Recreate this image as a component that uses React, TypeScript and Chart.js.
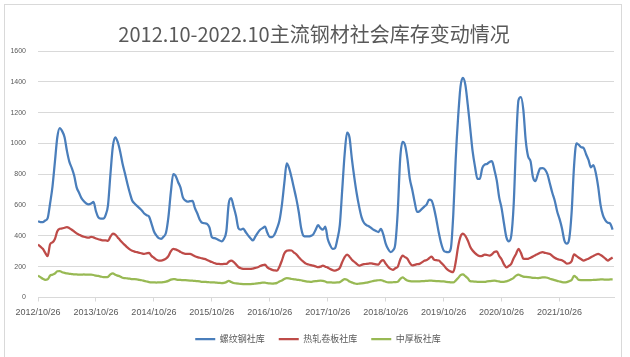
import React, { useEffect, useRef } from 'react';
import { Chart, registerables } from 'chart.js';

Chart.register(...registerables);

const titleText = '2012.10-2022.10主流钢材社会库存变动情况';
const xTickLabels = [
  '2012/10/26', '2013/10/26', '2014/10/26', '2015/10/26', '2016/10/26',
  '2017/10/26', '2018/10/26', '2019/10/26', '2020/10/26', '2021/10/26',
];
const seriesNames = ['螺纹钢社库', '热轧卷板社库', '中厚板社库'];
const pointsPerYear = 24; // semi-monthly readings starting 2012/10/26

const rebar = [
  495, 490, 490, 500, 515, 610, 720, 880, 1040, 1100,
  1080, 1040, 950, 880, 840, 790, 715, 680, 645, 625,
  610, 605, 610, 620, 560, 520, 512, 512, 535, 600,
  800, 980, 1040, 1010, 950, 870, 806, 740, 680, 630,
  610, 595, 580, 565, 545, 534, 525, 480, 430, 403,
  385, 381, 395, 420, 520, 680, 801, 790, 750, 715,
  650, 630, 622, 625, 627, 580, 545, 505, 485, 482,
  478, 455, 392, 385, 380, 372, 365, 380, 430, 610,
  645, 590, 530, 450, 440, 447, 425, 403, 385, 370,
  395, 420, 440, 450, 460, 420, 392, 392, 410, 450,
  500, 600, 740, 870, 840, 780, 710, 640, 555, 450,
  400, 396, 396, 400, 410, 440, 470, 450, 440, 460,
  380, 340, 315, 320, 380, 470, 700, 930, 1070, 1040,
  900, 780, 675, 590, 522, 485, 470, 462, 451, 440,
  432, 425, 445, 410, 350, 315, 295, 305, 350, 560,
  900, 1010, 990, 900, 770, 700, 620, 555, 560, 575,
  590, 605, 635, 630, 580, 505, 420, 350, 305, 296,
  294, 320, 540, 900, 1170, 1370, 1425, 1380, 1250, 1100,
  950, 849, 770, 770, 840, 862, 867, 880, 885, 830,
  760, 650, 580, 480, 390, 365, 400, 600, 1000, 1280,
  1300, 1220, 1020, 915, 885, 780, 755, 800, 838, 840,
  830, 800, 740, 680, 630, 560, 510, 450, 370, 349,
  380, 550, 850, 1000, 990, 975, 970, 930, 893, 845,
  860, 810, 720, 600, 533, 500, 485, 480, 440,
];

const hotRolled = [
  344, 330, 316, 290, 268, 345, 358, 380, 430, 446,
  448, 453, 457, 450, 440, 428, 416, 408, 400, 394,
  390, 388, 394, 390, 383, 378, 374, 370, 370, 368,
  395, 414, 408, 390, 372, 355, 340, 325, 312, 303,
  298, 294, 290, 286, 283, 287, 290, 270, 258, 246,
  240, 240, 244, 252, 268, 300, 316, 312, 305, 296,
  288, 283, 283, 283, 276, 268, 262, 258, 254, 251,
  244, 237, 230, 224, 218, 218, 216, 218, 218, 232,
  240, 232, 215, 198, 190, 186, 185, 185, 185, 188,
  192, 196, 204, 210, 214, 196, 186, 179, 176, 174,
  200, 240, 285, 303, 306, 305, 292, 280, 262, 245,
  232, 220, 214, 210, 207, 202, 197, 200, 207, 200,
  194, 185, 178, 174, 180, 192, 230, 262, 278, 265,
  245, 232, 218, 207, 212, 216, 218, 220, 222, 218,
  215, 214, 235, 242, 220, 200, 186, 180, 190, 200,
  245, 272, 262, 252, 225, 208, 212, 216, 218, 228,
  238, 244, 255, 266, 246, 242, 240, 225, 210, 190,
  176, 168, 165, 230, 330, 395, 414, 400, 370, 330,
  305, 288, 275, 268, 270, 279, 276, 272, 280, 295,
  300, 270, 248, 215, 196, 205, 218, 255, 283, 316,
  290, 252, 250, 251, 258, 266, 275, 282, 290, 294,
  290, 286, 283, 270, 258, 250, 245, 242, 232, 220,
  222, 235, 280, 270, 258, 248, 240, 246, 252, 261,
  270, 278, 283, 276, 266, 252, 240, 250, 260,
];

const plate = [
  142, 132, 122, 115, 118, 142, 148, 156, 170, 172,
  164, 160, 156, 154, 152, 150, 150, 148, 148, 150,
  148, 148, 148, 146, 142, 140, 136, 132, 132, 134,
  150, 157, 148, 142, 136, 128, 126, 124, 122, 120,
  120, 118, 114, 112, 108, 104, 100, 98, 98, 97,
  98, 98, 100, 103, 108, 116, 120, 118, 115, 114,
  113, 112, 111, 110, 109, 108, 106, 104, 102, 102,
  100, 99, 98, 98, 96, 95, 94, 95, 100, 108,
  100, 94, 92, 90, 88, 87, 87, 87, 87, 88,
  90, 92, 94, 96, 96, 93, 91, 90, 91, 95,
  104, 110, 120, 126, 124, 120, 118, 116, 114, 112,
  108, 105, 103, 102, 104, 106, 108, 109, 108, 104,
  98, 98, 97, 97, 98, 100, 110, 120, 116, 104,
  98, 92, 88, 90, 92, 94, 96, 100, 104, 108,
  110, 112, 113, 108, 102, 98, 98, 99, 100, 102,
  120, 131, 120, 110, 106, 105, 104, 104, 105, 106,
  107, 108, 109, 109, 108, 107, 106, 105, 104, 102,
  100, 98, 98, 110, 126, 145, 150, 138, 125, 106,
  104, 103, 102, 102, 102, 102, 104, 106, 108, 109,
  107, 104, 102, 102, 105, 110, 118, 128, 142, 148,
  142, 136, 134, 132, 130, 128, 127, 126, 128, 130,
  131, 128, 122, 118, 113, 108, 104, 100, 98, 100,
  106, 113, 140, 130, 114, 113, 112, 113, 113, 113,
  114, 115, 116, 117, 117, 116, 116, 117, 117,
];

const seriesColors = ['#4A7EBB', '#BE4B48', '#98B954'];
const seriesValues = [rebar, hotRolled, plate];

const toPoints = (arr: number[]) => arr.map((v, i) => ({ x: i / pointsPerYear, y: v }));

// nudges the title and legend boxes sideways so they sit where the reference puts them
const boxShift = {
  id: 'boxShift',
  afterLayout(chart: any) {
    const shift = (box: any, dx: number) => {
      if (!box) return;
      box.left += dx;
      box.right += dx;
      if (box.legendHitBoxes) box.legendHitBoxes.forEach((h: any) => { h.left += dx; });
    };
    shift(chart.titleBlock, 7);
    shift(chart.legend, 11);
  },
};

export default function App() {
  const canvasRef = useRef<HTMLCanvasElement | null>(null);

  useEffect(() => {
    const canvas = canvasRef.current;
    if (!canvas) return;
    const chart = new Chart(canvas, {
      type: 'line',
      data: {
        datasets: seriesValues.map((vals, i) => ({
          label: seriesNames[i],
          data: toPoints(vals),
          borderColor: seriesColors[i],
          backgroundColor: seriesColors[i],
          borderWidth: 2.25,
          pointRadius: 0,
          cubicInterpolationMode: 'monotone' as const,
          fill: false,
        })),
      },
      options: {
        animation: false,
        responsive: false,
        maintainAspectRatio: false,
        events: [],
        layout: { padding: { left: 0, right: 16, top: 0, bottom: 3.5 } },
        plugins: {
          title: {
            display: true,
            text: titleText,
            color: '#595959',
            font: { family: '"Noto Sans CJK SC", "Noto Sans", sans-serif', size: 20, weight: 'normal' },
            padding: { top: 22, bottom: 5 },
          },
          legend: {
            position: 'bottom',
            labels: {
              usePointStyle: true,
              pointStyle: 'line',
              pointStyleWidth: 20,
              color: '#595959',
              font: { family: '"Noto Sans CJK SC", sans-serif', size: 9 },
              padding: 14,
            },
          },
          tooltip: { enabled: false },
        },
        scales: {
          x: {
            type: 'linear',
            min: 0,
            max: 9.94,
            afterFit: (scale: any) => { scale.height = 23; },
            ticks: {
              stepSize: 1,
              includeBounds: false,
              autoSkip: false,
              maxRotation: 0,
              padding: 6,
              color: '#595959',
              font: { family: '"Liberation Sans", sans-serif', size: 9 },
              callback: (v: any) => {
                const n = Number(v);
                return Number.isInteger(n) && n < xTickLabels.length ? xTickLabels[n] : '';
              },
            },
            grid: { drawOnChartArea: false, drawTicks: true, tickLength: 4, color: '#d9d9d9' },
            border: { display: true, color: '#d9d9d9', width: 1 },
          },
          y: {
            min: 0,
            max: 1600,
            afterFit: (scale: any) => { scale.width = 38; },
            ticks: {
              stepSize: 200,
              padding: 12,
              color: '#595959',
              font: { family: '"Liberation Sans", sans-serif', size: 7 },
              callback: (v: any) => String(v),
            },
            grid: { color: '#d9d9d9', drawTicks: false },
            border: { display: false },
          },
        },
      },
      plugins: [boxShift],
    });
    return () => chart.destroy();
  }, []);

  return (
    <div style={{ position: 'fixed', left: 0, top: 0, width: 630, height: 357, overflow: 'hidden', background: '#fff' }}>
      <div style={{ position: 'absolute', left: 4, top: 4, width: 618, height: 400, border: '1px solid #d9d9d9', boxSizing: 'border-box' }} />
      <canvas ref={canvasRef} width={630} height={357} style={{ position: 'absolute', left: 0, top: 0, width: 630, height: 357 }} />
    </div>
  );
}
